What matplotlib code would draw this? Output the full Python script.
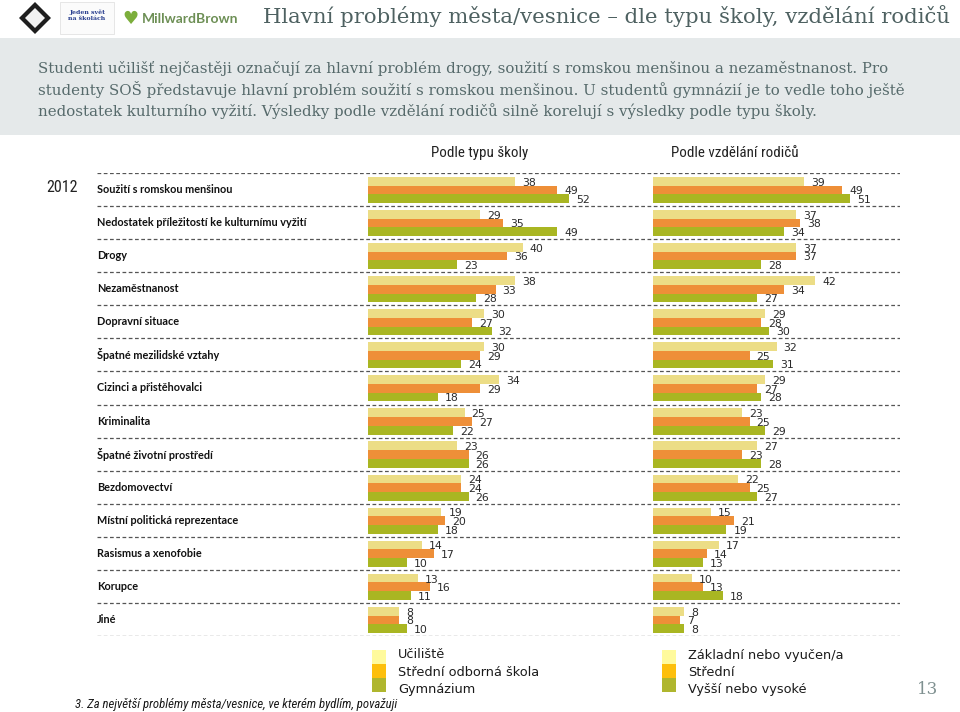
import matplotlib.pyplot as plt
from matplotlib.patches import Rectangle, Polygon
from matplotlib import font_manager

W, H = 960, 712

categories = ["Soužití s romskou menšinou", "Nedostatek příležitostí ke kulturnímu vyžití",
              "Drogy", "Nezaměstnanost", "Dopravní situace", "Špatné mezilidské vztahy",
              "Cizinci a přistěhovalci", "Kriminalita", "Špatné životní prostředí",
              "Bezdomovectví", "Místní politická reprezentace", "Rasismus a xenofobie",
              "Korupce", "Jiné"]

# Podle typu školy
uciliste = [38, 29, 40, 38, 30, 30, 34, 25, 23, 24, 19, 14, 13, 8]
sos = [49, 35, 36, 33, 27, 29, 29, 27, 26, 24, 20, 17, 16, 8]
gymnazium = [52, 49, 23, 28, 32, 24, 18, 22, 26, 26, 18, 10, 11, 10]

# Podle vzdělání rodičů
zakladni = [39, 37, 37, 42, 29, 32, 29, 23, 27, 22, 15, 17, 10, 8]
stredni = [49, 38, 37, 34, 28, 25, 27, 25, 23, 25, 21, 14, 13, 7]
vysoke = [51, 34, 28, 27, 30, 31, 28, 29, 28, 27, 19, 13, 18, 8]

legend_skola = ["Učiliště", "Střední odborná škola", "Gymnázium"]
legend_rodice = ["Základní nebo vyučen/a", "Střední", "Vyšší nebo vysoké"]

bar_colors = ["#ecdd86", "#ee8f38", "#a9b622"]
legend_colors = ["#fffa9c", "#fdbf0c", "#afb62e"]

# narrow font if one exists, otherwise Liberation Sans at a smaller size
fonts = font_manager.fontManager.ttflist
names = {f.name for f in fonts}
narrow = dict(family="Liberation Sans")
shrink = 0.8
for cand in ["Liberation Sans Narrow", "Arial Narrow", "Roboto Condensed", "Open Sans Condensed"]:
    if cand in names:
        narrow = dict(family=cand)
        shrink = 1.0
        break
else:
    if any(f.name == "DejaVu Sans" and f.stretch == "condensed" for f in fonts):
        narrow = dict(family="DejaVu Sans", stretch="condensed")
        shrink = 0.86


def px(x0, y0, x1, y1):
    # pixel box (top-left origin) -> figure fraction rect
    return [x0 / W, 1 - y1 / H, (x1 - x0) / W, (y1 - y0) / H]


def pt(x, y):
    return (x / W, 1 - y / H)


fig = plt.figure(figsize=(W / 100, H / 100), dpi=100)
fig.patch.set_facecolor("white")

# header
fig.text(950 / W, 1 - 16 / H, "Hlavní problémy města/vesnice – dle typu školy, vzdělání rodičů",
         ha="right", va="center", fontsize=15.3, family="DejaVu Serif", color="#4e6161")
fig.add_artist(Rectangle((0, 1 - 135 / H), 1, 97 / H, transform=fig.transFigure,
                         facecolor="#e5e9ea", edgecolor="none", zorder=0))
intro = ["Studenti učilišť nejčastěji označují za hlavní problém drogy, soužití s romskou menšinou a nezaměstnanost. Pro",
         "studenty SOŠ představuje hlavní problém soužití s romskou menšinou. U studentů gymnázií je to vedle toho ještě",
         "nedostatek kulturního vyžití. Výsledky podle vzdělání rodičů silně korelují s výsledky podle typu školy."]
for k, line in enumerate(intro):
    fig.text(38 / W, 1 - (69 + 21 * k) / H, line, ha="left", va="center",
             fontsize=10.83, family="DejaVu Serif", color="#566a6b")

# logos (simplified)
fig.add_artist(Polygon([pt(35, 2), pt(51, 18), pt(35, 34), pt(19, 18)], closed=True,
                       transform=fig.transFigure, facecolor="#1e1e1e", edgecolor="none"))
fig.add_artist(Polygon([pt(35, 8), pt(45, 18), pt(35, 28), pt(25, 18)], closed=True,
                       transform=fig.transFigure, facecolor="#f2f2f2", edgecolor="none"))
fig.add_artist(Rectangle(pt(60, 34), 54 / W, 32 / H, transform=fig.transFigure,
                         facecolor="#fbfbfb", edgecolor="#e2e2e2", lw=0.6))
fig.text(87 / W, 1 - 15 / H, "Jeden svět\nna školách", ha="center", va="center",
         fontsize=4.5, family="DejaVu Serif", color="#2a3f8f", fontweight="bold")
fig.text(130 / W, 1 - 19 / H, "♥", ha="center", va="center", fontsize=13, color="#7cae3c")
fig.text(142 / W, 1 - 19 / H, "MillwardBrown", ha="left", va="center",
         fontsize=10, family="Lato", fontweight="bold", color="#6d8f55")

# dashed separators and category labels
top, bottom = 173, 636
n = len(categories)
bg = fig.add_axes(px(97, top, 900, bottom))
bg.set_xlim(0, 803)
bg.set_ylim(n, 0)
bg.axis("off")
for i in range(n + 1):
    bg.axhline(i, color="#555555", lw=0.9, linestyle=(0, (3, 2)))
for i, cat in enumerate(categories):
    bg.text(0, i + 0.5, cat, ha="left", va="center", fontsize=7.8,
            family="Lato", fontweight="bold", color="#111111")

fig.text(62 / W, 1 - 188 / H, "2012", ha="center", va="center", fontsize=11.5 * shrink,
         color="#222222", **narrow)
fig.text(480 / W, 1 - 153 / H, "Podle typu školy", ha="center", va="center",
         fontsize=10.8 * shrink, color="#222222", **narrow)
fig.text(735 / W, 1 - 153 / H, "Podle vzdělání rodičů", ha="center", va="center",
         fontsize=10.8 * shrink, color="#222222", **narrow)


def panel(x0, series):
    ax = fig.add_axes(px(x0, top, x0 + 232, bottom))
    ax.set_xlim(0, 60)
    ax.set_ylim(n, 0)
    ax.axis("off")
    ax.patch.set_alpha(0)
    offsets = [0.25, 0.513, 0.776]
    for vals, off, col in zip(series, offsets, bar_colors):
        ys = [i + off for i in range(n)]
        ax.barh(ys, vals, height=0.263, color=col, edgecolor="none")
        for y, v in zip(ys, vals):
            ax.annotate(str(v), (v, y), xytext=(5, -1), textcoords="offset points",
                        ha="left", va="center", fontsize=7.8, color="#2a2a2a")
    return ax


panel(368, [uciliste, sos, gymnazium])
panel(653, [zakladni, stredni, vysoke])

# legends
for lx, labels in [(372, legend_skola), (662, legend_rodice)]:
    for k, (lab, col) in enumerate(zip(labels, legend_colors)):
        fig.add_artist(Rectangle((lx / W, 1 - (664 + 14 * k) / H), 14 / W, 14 / H,
                                 transform=fig.transFigure, facecolor=col, edgecolor="none"))
        fig.text((lx + 26) / W, 1 - (655 + 17 * k) / H, lab, ha="left", va="center",
                 fontsize=9.3, color="#1a1a1a")

fig.text(75 / W, 1 - 704 / H, "3. Za největší problémy města/vesnice, ve kterém bydlím, považuji",
         ha="left", va="center", fontsize=9.2 * shrink, style="italic", color="#1a1a1a", **narrow)
fig.text(928 / W, 1 - 689 / H, "13", ha="center", va="center", fontsize=12,
         family="DejaVu Serif", color="#7f9090")

fig.savefig("out.png", dpi=100)
